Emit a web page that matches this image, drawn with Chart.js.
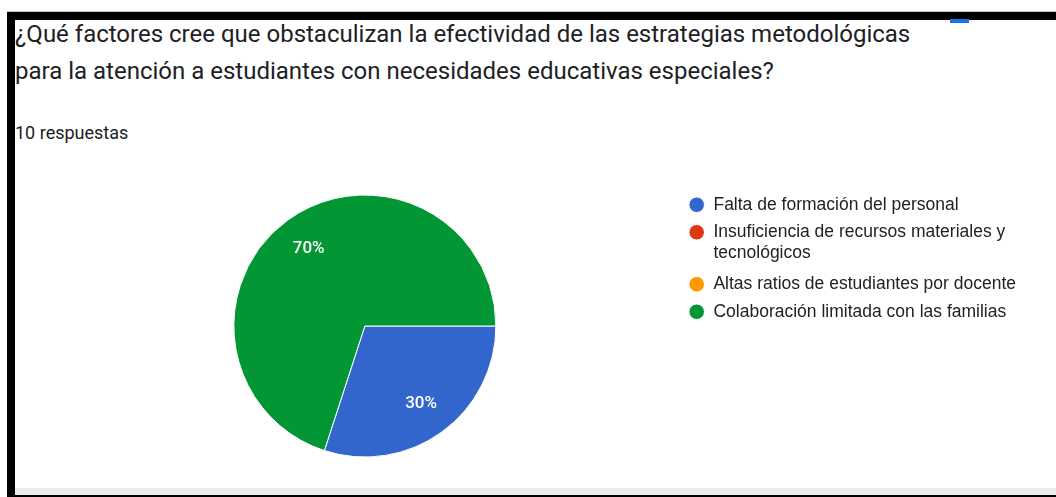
<!DOCTYPE html>
<html>
<head>
<meta charset="utf-8">
<script src="https://cdn.jsdelivr.net/npm/chart.js@4"></script>
<style>
  html, body { margin: 0; padding: 0; background: #fff; }
  #page { position: relative; width: 1056px; height: 497px; overflow: hidden; background: #fff; }
  .topline { position: absolute; left: 7px; top: 11px; width: 1049px; height: 1px; background: #c8c8c8; }
  .topbar { position: absolute; left: 7px; top: 12px; width: 1049px; height: 8px; background: #000; }
  .leftbar { position: absolute; left: 7px; top: 12px; width: 8px; height: 485px; background: #000; }
  .bottomband { position: absolute; left: 15px; top: 488px; width: 1041px; height: 7px; background: #ececf0; }
  .bottombar { position: absolute; left: 7px; top: 495px; width: 1049px; height: 2px; background: #000; }
  .icon { position: absolute; left: 950px; top: 19px; width: 19px; height: 4px; background: #1a73e8; }
  .title { position: absolute; left: 15px; top: 16px; font-family: Roboto, sans-serif; font-size: 24px;
           line-height: 37px; color: #202124; white-space: nowrap; }
  .count { position: absolute; left: 15px; top: 122px; font-family: Roboto, sans-serif; font-size: 18px;
           line-height: 21px; color: #202124; }
  #wrap { position: absolute; left: 15px; top: 150px; width: 1041px; height: 338px; }
</style>
</head>
<body>
<div id="page">
  <div class="topline"></div>
  <div class="topbar"></div>
  <div class="leftbar"></div>
  <div class="bottomband"></div>
  <div class="bottombar"></div>
  <div class="icon"></div>
  <div class="title">¿Qué factores cree que obstaculizan la efectividad de las estrategias metodológicas<br>para la atención a estudiantes con necesidades educativas especiales?</div>
  <div class="count">10 respuestas</div>
  <div id="wrap"><canvas id="pie"></canvas></div>
</div>
<script>
// data
const labels = [
  'Falta de formación del personal',
  ['Insuficiencia de recursos materiales y', 'tecnológicos'],
  'Altas ratios de estudiantes por docente',
  'Colaboración limitada con las familias'
];
const answers = [3, 0, 0, 7];
const colors = ['#3366cc', '#dc3912', '#ff9900', '#039634'];

// percent labels inside the slices
const pctLabels = {
  id: 'pctLabels',
  afterDatasetsDraw(chart) {
    const ctx = chart.ctx;
    const total = answers.reduce((a, b) => a + b, 0);
    chart.getDatasetMeta(0).data.forEach((arc, i) => {
      if (!answers[i]) return;
      const p = arc.getProps(['x', 'y', 'startAngle', 'endAngle', 'outerRadius'], true);
      const mid = (p.startAngle + p.endAngle) / 2;
      const r = p.outerRadius * 0.73;
      ctx.save();
      ctx.fillStyle = '#fff';
      ctx.font = '500 17px Roboto, sans-serif';
      ctx.textAlign = 'center';
      ctx.textBaseline = 'middle';
      ctx.fillText(Math.round(answers[i] / total * 100) + '%', p.x + Math.cos(mid) * r, p.y + Math.sin(mid) * r);
      ctx.restore();
    });
  }
};

new Chart(document.getElementById('pie'), {
  type: 'pie',
  data: {
    labels,
    datasets: [{
      data: answers,
      backgroundColor: colors,
      borderColor: '#fff',
      borderWidth: 1,
      radius: 131
    }]
  },
  options: {
    responsive: true,
    maintainAspectRatio: false,
    animation: false,
    rotation: 90,
    layout: { padding: { left: 36, right: 30, top: 36, bottom: 22 } },
    plugins: {
      tooltip: { enabled: false },
      legend: {
        position: 'right',
        align: 'start',
        labels: {
          usePointStyle: true,
          pointStyle: 'circle',
          boxWidth: 16,
          boxHeight: 11,
          padding: 10,
          color: '#222',
          font: { family: 'Liberation Sans, Arial, sans-serif', size: 17.5, lineHeight: 1.2 }
        }
      }
    }
  },
  plugins: [pctLabels]
});
</script>
</body>
</html>
